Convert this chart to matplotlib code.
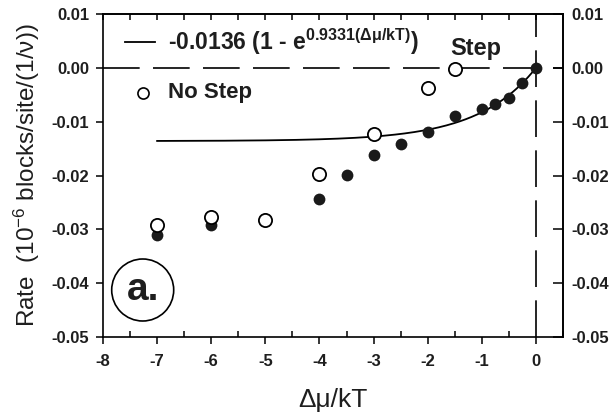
import numpy as np
import matplotlib
matplotlib.use("Agg")
import matplotlib.pyplot as plt
from matplotlib.patches import Ellipse
from matplotlib.ticker import MultipleLocator

plt.rcParams['font.family'] = ['Liberation Sans', 'DejaVu Sans']
plt.rcParams['mathtext.fontset'] = 'custom'
plt.rcParams['mathtext.rm'] = 'Liberation Sans:bold'
plt.rcParams['mathtext.it'] = 'Liberation Sans:bold'
plt.rcParams['mathtext.bf'] = 'Liberation Sans:bold'

# Data
no_step_x = [-7, -6, -5, -4, -3, -2, -1.5]
no_step_y = [-0.0292, -0.0277, -0.0283, -0.0198, -0.0122, -0.0038, -0.0002]

step_x = [-7, -6, -5, -4, -3.5, -3, -2.5, -2, -1.5, -1, -0.75, -0.5, -0.25, 0]
step_y = [-0.0311, -0.0292, -0.0281, -0.0243, -0.0199, -0.0162, -0.0141, -0.0120,
          -0.0090, -0.0077, -0.0067, -0.0056, -0.0029, 0.0000]

# Fit shown in the legend: A (1 - exp(k x))
fit_A = -0.0136
fit_k = 0.9331
fit_x = np.linspace(-7, 0, 200)
fit_y = fit_A * (1 - np.exp(fit_k * fit_x))

x_ticks = [-8, -7, -6, -5, -4, -3, -2, -1, 0]
y_ticks = [0.01, 0.00, -0.01, -0.02, -0.03, -0.04, -0.05]
y_labels = [f"{v:.2f}" for v in y_ticks]

TXT = '#1e1e1e'

fig = plt.figure(figsize=(6.11, 4.17), dpi=100)
ax = fig.add_axes([103/611, 1-337/417, 460/611, 323/417])

ax.set_xlim(-8, 0.5)
ax.set_ylim(-0.05, 0.01)

dash = (0, (22, 8))
ax.plot([-8, 0.5], [0, 0], color='black', lw=1.2, linestyle=dash, zorder=1)
ax.plot([0, 0], [-0.05, 0.01], color='black', lw=1.2, linestyle=dash, zorder=1)

ax.plot(fit_x, fit_y, color='black', lw=1.3, zorder=2)
ax.plot(step_x, step_y, 'o', color='#1a1a1a', markersize=8.5, markeredgewidth=0, zorder=3)
ax.plot(no_step_x, no_step_y, 'o', markerfacecolor='white', markeredgecolor='black',
        markersize=9.5, markeredgewidth=1.3, zorder=4)

ax.set_xticks(x_ticks)
ax.set_yticks(y_ticks)
ax.set_xticklabels([f"{v:d}" for v in x_ticks], fontweight='bold')
ax.set_yticklabels(y_labels, fontweight='bold')
ax.xaxis.set_minor_locator(MultipleLocator(0.5))

for s in ax.spines.values():
    s.set_linewidth(1.2)

ax.tick_params(axis='x', which='major', direction='out', length=5, width=1.1,
               top=False, labelsize=12, pad=7, labelcolor=TXT)
ax.tick_params(axis='x', which='minor', direction='in', length=4, width=1.1, top=False)
ax.tick_params(axis='y', which='major', direction='out', length=5, width=1.1,
               left=True, right=False, labelsize=12, pad=5, labelcolor=TXT)

# top ticks (inward, every 0.5)
secx = ax.secondary_xaxis('top')
secx.set_xticks(np.arange(-8, 0.51, 0.5))
secx.tick_params(direction='in', length=4, width=1.1, labeltop=False)
secx.spines['top'].set_linewidth(1.2)

# right ticks (inward) with labels
secy = ax.secondary_yaxis('right')
secy.set_yticks(y_ticks)
secy.set_yticklabels(y_labels, fontweight='bold')
secy.tick_params(direction='in', length=7, width=1.1, labelsize=12, pad=6, labelcolor=TXT)
secy.spines['right'].set_linewidth(1.2)

ax.set_xlabel('Δμ/kT', fontsize=19, labelpad=14, color=TXT)
ax.set_ylabel('Rate  (10$^{\\mathregular{-6}}$ blocks/site/(1/ν))', fontsize=17.5,
              labelpad=7, color=TXT)

# legend-like annotations
ax.plot([0.048, 0.113], [0.913, 0.913], transform=ax.transAxes, color='black', lw=1.3)
ax.text(0.141, 0.8885, '-0.0136 (1 - e$^{0.9331(Δμ/kT)}$)', transform=ax.transAxes,
        fontsize=16.5, fontweight='bold', va='baseline', ha='left', color=TXT)
ax.text(0.754, 0.873, 'Step', transform=ax.transAxes, fontsize=17, fontweight='bold',
        va='baseline', ha='left', color=TXT)
ax.plot([0.0876], [0.7545], 'o', transform=ax.transAxes, markerfacecolor='white',
        markeredgecolor='black', markersize=8, markeredgewidth=1.2)
ax.text(0.141, 0.739, 'No Step', transform=ax.transAxes, fontsize=16, fontweight='bold',
        va='baseline', ha='left', color=TXT)

# panel label
ax.add_patch(Ellipse((0.0863, 0.1455), 62/460, 62/323, transform=ax.transAxes,
                     facecolor='none', edgecolor='black', lw=1.2))
ax.text(0.0863, 0.1455, 'a.', transform=ax.transAxes, fontsize=28, fontweight='bold',
        ha='center', va='center', color=TXT)

fig.savefig('out.png', dpi=100)
